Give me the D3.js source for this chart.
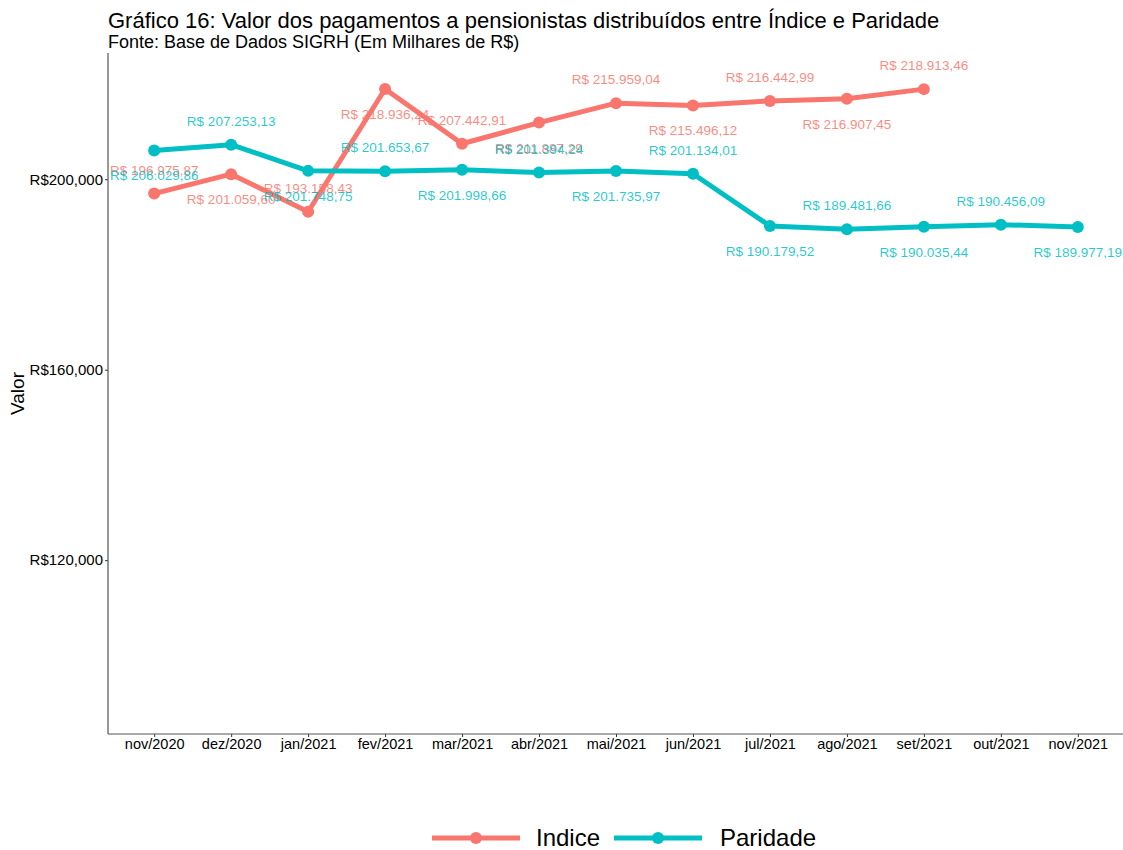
<!DOCTYPE html>
<html>
<head>
<meta charset="utf-8">
<script src="https://cdn.jsdelivr.net/npm/d3@7"></script>
<style>
body { margin: 0; background: #fff; }
svg { font-family: "Liberation Sans", Arial, sans-serif; }
</style>
</head>
<body>
<svg id="chart" width="1123" height="850"></svg>
<script>
const months = ["nov/2020","dez/2020","jan/2021","fev/2021","mar/2021","abr/2021","mai/2021","jun/2021","jul/2021","ago/2021","set/2021","out/2021","nov/2021"];
const indiceValues = [196975.87, 201059.60, 193158.43, 218936.24, 207442.91, 211887.29, 215959.04, 215496.12, 216442.99, 216907.45, 218913.46];
const paridadeValues = [206029.86, 207253.13, 201748.75, 201653.67, 201998.66, 201394.24, 201735.97, 201134.01, 190179.52, 189481.66, 190035.44, 190456.09, 189977.19];
const yTicks = [120000, 160000, 200000];
const seriesNames = ["Indice", "Paridade"];
const seriesColors = ["#F8766D", "#00BFC4"];

const svg = d3.select("#chart");
const pLeft = 108, pRight = 1124, pTop = 53, pBottom = 734;

const x = d3.scalePoint().domain(months).range([pLeft, pRight]).padding(0.6);
const y = d3.scaleLinear().domain([83500, 226500]).range([pBottom, pTop]);

// Titles
svg.append("text").attr("x", pLeft).attr("y", 28).attr("font-size", 22).attr("fill", "#000")
  .text("Gráfico 16: Valor dos pagamentos a pensionistas distribuídos entre Índice e Paridade");
svg.append("text").attr("x", pLeft).attr("y", 48).attr("font-size", 18).attr("fill", "#000")
  .text("Fonte: Base de Dados SIGRH (Em Milhares de R$)");

// Axes
const fmtAxis = v => "R$" + d3.format(",")(v);
const yAxis = svg.append("g").attr("transform", `translate(${pLeft},0)`)
  .call(d3.axisLeft(y).tickValues(yTicks).tickFormat(fmtAxis).tickSize(3).tickPadding(2));
yAxis.select(".domain").remove();
yAxis.selectAll("line").attr("stroke", "#333");
yAxis.selectAll("text").attr("font-size", 15).attr("fill", "#000").attr("font-family", "Liberation Sans, Arial, sans-serif");

const xAxis = svg.append("g").attr("transform", `translate(0,${pBottom})`)
  .call(d3.axisBottom(x).tickSize(3).tickPadding(2));
xAxis.select(".domain").remove();
xAxis.selectAll("line").attr("stroke", "#333");
xAxis.selectAll("text").attr("font-size", 14.5).attr("fill", "#000").attr("font-family", "Liberation Sans, Arial, sans-serif");

// Axis lines
svg.append("line").attr("x1", pLeft).attr("x2", pLeft).attr("y1", pTop).attr("y2", pBottom).attr("stroke", "#555").attr("stroke-width", 1.2);
svg.append("line").attr("x1", pLeft).attr("x2", pRight).attr("y1", pBottom).attr("y2", pBottom).attr("stroke", "#555").attr("stroke-width", 1.2);

// Y label
svg.append("text").attr("transform", `translate(24,${(pTop + pBottom) / 2}) rotate(-90)`)
  .attr("text-anchor", "middle").attr("font-size", 19).attr("fill", "#000").text("Valor");

const series = [
  { name: seriesNames[0], color: seriesColors[0], values: indiceValues, firstAbove: true },
  { name: seriesNames[1], color: seriesColors[1], values: paridadeValues, firstAbove: false }
];

const fmtLabel = v => "R$ " + v.toLocaleString("pt-BR", { minimumFractionDigits: 2, maximumFractionDigits: 2 });
const line = d3.line().x((d, i) => x(months[i])).y(d => y(d));

series.forEach(s => {
  svg.append("path").datum(s.values).attr("d", line)
    .attr("fill", "none").attr("stroke", s.color).attr("stroke-width", 5).attr("stroke-linejoin", "round");
  svg.selectAll(null).data(s.values).enter().append("circle")
    .attr("cx", (d, i) => x(months[i])).attr("cy", d => y(d)).attr("r", 6).attr("fill", s.color);
});

series.forEach(s => {
  svg.selectAll(null).data(s.values).enter().append("text")
    .attr("x", (d, i) => x(months[i]))
    .attr("y", (d, i) => {
      const above = (i % 2 === 0) === s.firstAbove;
      return y(d) + (above ? -19 : 30);
    })
    .attr("text-anchor", "middle").attr("font-size", 13.5).attr("fill", s.color).attr("fill-opacity", 0.85)
    .text(d => fmtLabel(d));
});

// Legend
const legend = svg.append("g");
const legItems = [
  { name: seriesNames[0], color: seriesColors[0], x0: 432, tx: 536 },
  { name: seriesNames[1], color: seriesColors[1], x0: 614, tx: 720 }
];
legItems.forEach(l => {
  legend.append("line").attr("x1", l.x0).attr("x2", l.x0 + 88).attr("y1", 838).attr("y2", 838)
    .attr("stroke", l.color).attr("stroke-width", 5);
  legend.append("circle").attr("cx", l.x0 + 44).attr("cy", 838).attr("r", 6).attr("fill", l.color);
  legend.append("text").attr("x", l.tx).attr("y", 846).attr("font-size", 24).attr("fill", "#000").text(l.name);
});
</script>
</body>
</html>
